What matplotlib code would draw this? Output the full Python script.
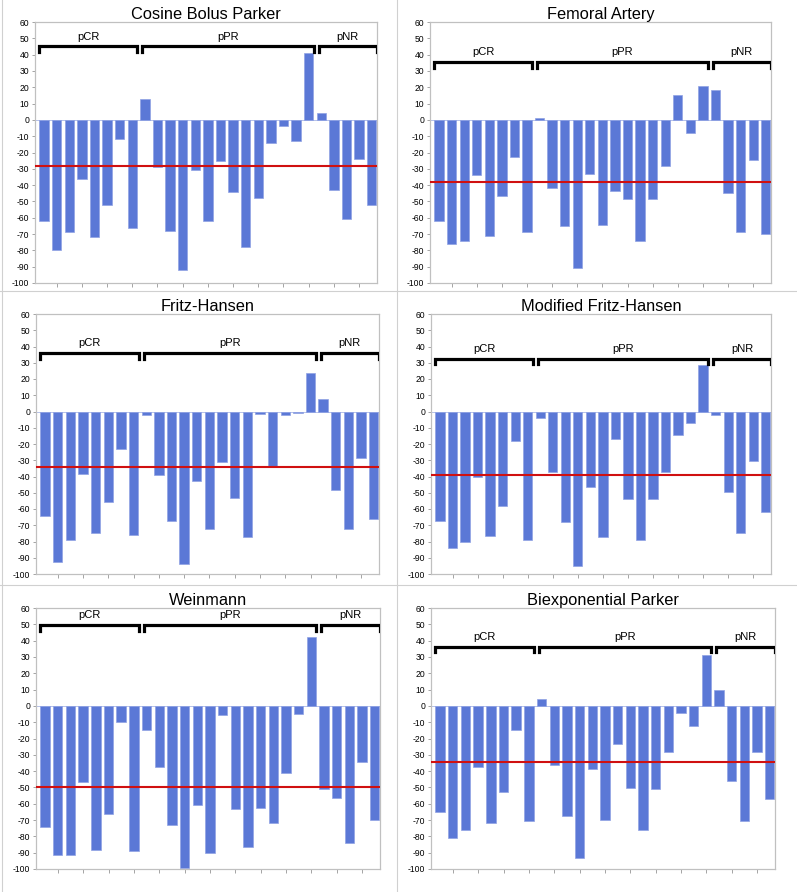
import numpy as np
import matplotlib
matplotlib.use("Agg")
import matplotlib.pyplot as plt
from matplotlib.lines import Line2D

plt.rcParams['axes.unicode_minus'] = False
plt.rcParams['font.family'] = ['Liberation Sans', 'DejaVu Sans']

# groups of patients
group_names = ['pCR', 'pPR', 'pNR']
group_sizes = [8, 14, 5]

# per-patient change (%) for each AIF model
cosine_bolus_parker = [-62, -80, -69, -36, -72, -52, -12, -66,
                       13, -29, -68, -92, -31, -62, -25, -44, -78, -48, -14, -4, -13, 41,
                       4, -43, -61, -24, -52]
femoral_artery = [-62, -76, -74.5, -34, -71, -46.5, -23, -68.5,
                  1, -42, -65, -90.5, -33, -64.5, -43.5, -48.5, -74, -48.5, -28, 15.5, -8, 21,
                  18.5, -45, -69, -24.5, -70]
fritz_hansen = [-64.5, -92.5, -79, -38.5, -74.5, -55.5, -23, -76,
                -2, -39, -67.5, -94, -43, -72, -31, -53, -77, -1.5, -34, -2, -1, 23.5,
                7.5, -48, -72, -28.5, -66]
modified_fritz_hansen = [-67.5, -84, -80.5, -40.5, -76.5, -58, -18, -79,
                         -4, -37.5, -68, -95, -46.5, -77.5, -17, -54, -79, -54, -37.5, -14.5, -7, 28.5,
                         -2, -49.5, -75, -30.5, -62]
weinmann = [-74, -91.5, -91.5, -46.5, -88.5, -66, -10, -89,
            -14.5, -37.5, -73, -99.5, -61, -90, -5.5, -63, -86.5, -62.5, -71.5, -41, -5, 42.5,
            -51, -56.5, -84, -34.5, -70]
biexponential_parker = [-65, -81, -76, -37.5, -72, -52.5, -15, -70.5,
                        4, -36, -67.5, -93, -39, -70, -23.5, -50.5, -76, -51, -28, -4.5, -12.5, 31,
                        10, -46, -70.5, -28, -57]

titles = ['Cosine Bolus Parker', 'Femoral Artery', 'Fritz-Hansen',
          'Modified Fritz-Hansen', 'Weinmann', 'Biexponential Parker']
series = [cosine_bolus_parker, femoral_artery, fritz_hansen,
          modified_fritz_hansen, weinmann, biexponential_parker]
mean_change = [-28.3, -38.2, -34.3, -39.3, -49.8, -34.3]
bracket_level = [45, 35.5, 36, 32.5, 49.5, 36.3]

W, H = 797, 892
fig = plt.figure(figsize=(W / 100, H / 100), dpi=100)


def px_rect(l, t, r, b):
    return [l / W, 1 - b / H, (r - l) / W, (b - t) / H]


# axes boxes in pixels (left, top, right, bottom)
boxes = [(35, 22, 377, 283), (430, 22, 771, 283),
         (36, 314, 379, 574), (431, 314, 771, 574),
         (36, 608, 380, 869), (431, 608, 775, 869)]

bar_color = '#5b78d6'
frame_color = '#c0c0c0'

for i in range(6):
    ax = fig.add_axes(px_rect(*boxes[i]))
    vals = series[i]
    x = np.arange(len(vals))
    ax.bar(x, vals, width=0.74, color=bar_color, edgecolor='#90a2e4', linewidth=0.5, zorder=2)
    ax.axhline(mean_change[i], color='#d01010', lw=1.5, zorder=3)
    ax.axhline(0, color='#9aa9e0', lw=0.5, zorder=1)

    ax.set_xlim(-0.72, 26.42)
    ax.set_ylim(-100, 60)
    ax.set_yticks(np.arange(-100, 61, 10))
    ax.set_xticks(np.arange(1, 26, 2))
    ax.set_xticklabels([])
    ax.tick_params(axis='y', labelsize=6.2, length=2, width=0.5, color='#808080', pad=2)
    ax.tick_params(axis='x', length=3, width=0.5, color='#808080')
    for s in ax.spines.values():
        s.set_color(frame_color)
        s.set_linewidth(0.9)
    ax.set_title(titles[i], fontsize=11.8, pad=1.5)

    # group brackets
    lvl = bracket_level[i]
    start = 0
    for g, n in zip(group_names, group_sizes):
        x0 = start - (0.37 if start == 0 else 0.2)
        x1 = start + n - 1 + 0.4
        ax.plot([x0, x0, x1, x1], [lvl - 3.5, lvl, lvl, lvl - 3.5],
                color='black', lw=2.3, solid_joinstyle='miter', zorder=4)
        ax.text((x0 + x1) / 2, lvl + 3, g, ha='center', va='bottom', fontsize=8)
        start += n

# panel separators
sep = '#d0d0d0'
fig.add_artist(Line2D([397 / W, 397 / W], [0, 1], color=sep, lw=0.8))
fig.add_artist(Line2D([0, 1], [1 - 291 / H, 1 - 291 / H], color=sep, lw=0.8))
fig.add_artist(Line2D([0, 1], [1 - 585 / H, 1 - 585 / H], color=sep, lw=0.8))
fig.add_artist(Line2D([2 / W, 2 / W], [0, 1], color=sep, lw=0.8))

fig.savefig('out.png', dpi=100)
